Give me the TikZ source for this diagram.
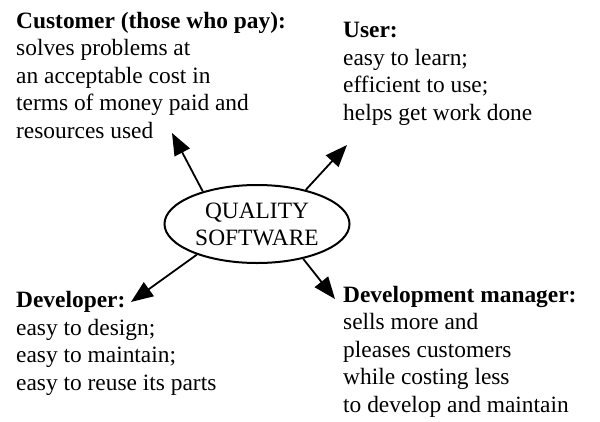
\documentclass[tikz,border=0pt]{standalone}
\usepackage{fontspec}
\setmainfont{Liberation Serif}
\usetikzlibrary{arrows.meta}
\usetikzlibrary{shapes.geometric}

\begin{document}
\begin{tikzpicture}[x=1pt,y=-1pt]
\tikzstyle{view node}=[align=left,inner sep=0,anchor=base west,font=\fontsize{23.4}{27.5}\selectfont]
\tikzset{
  quality/.style = {ellipse,draw,line width=2pt,minimum width=185pt,minimum height=78pt,inner sep=0,align=center,font=\fontsize{23.4}{27}\selectfont},
  need/.style = {line width=1.8pt,-{Triangle[length=22pt,width=17pt]}}
}
\useasboundingbox (0,0) rectangle (600,421);

    \node[quality] (q) at (257,224) {QUALITY\\SOFTWARE};
    %%%%%%%%%%%%%%%%%%%%%%%%%%%%%%%%%%%
    % the base anchor sits on the last line
    \node[view node] (cust) at (16,138) {\textbf{Customer (those who pay):}\\solves problems at\\an acceptable cost in\\terms of money paid and\\resources used};
    \node[view node] (user) at (343,120) {\textbf{User:}\\easy to learn;\\efficient to use;\\helps get work done};
    \node[view node] (dev) at (16,390) {\textbf{Developer:}\\easy to design;\\easy to maintain;\\easy to reuse its parts};
    \node[view node] (mgr) at (343,412) {\textbf{Development manager:}\\sells more and\\pleases customers\\while costing less\\to develop and maintain};
    %%%%%%%%%%%%%%%%%%%%%%%%%%%%%%%%%%%
    \coordinate (tc) at (172,133);
    \coordinate (tu) at (347,145);
    \coordinate (td) at (131,302);
    \coordinate (tm) at (335,299);
    \path[need]
        (q.149) edge (tc)
        (q.35) edge (tu)
        (q.207) edge (td)
        (q.-37) edge (tm)
;
\end{tikzpicture}
\end{document}
